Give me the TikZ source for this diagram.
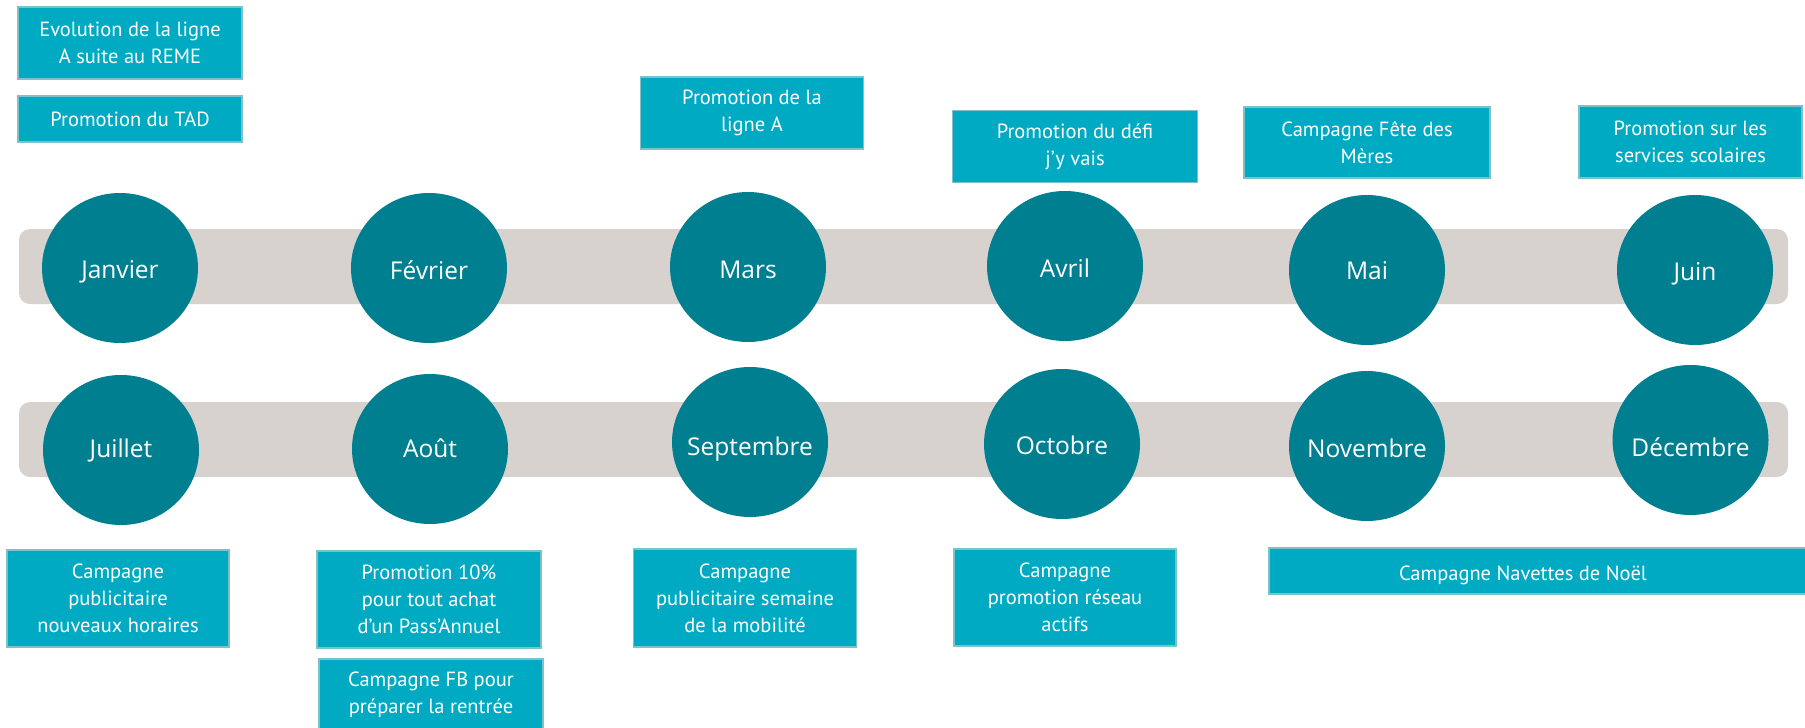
\documentclass[tikz,border=0pt]{standalone}
\usepackage{fontspec}
\setmainfont{PT Sans}
\newfontfamily\monthfont{Open Sans}
\definecolor{boxcyan}{HTML}{00AAC3}
\definecolor{boxborder}{HTML}{7CC2C7}
\definecolor{circ}{HTML}{007F90}
\definecolor{band}{HTML}{D7D2CE}
\usetikzlibrary{shapes.geometric}
\tikzset{
  evbox/.style={rectangle, fill=boxcyan, draw=boxborder, line width=1.8pt, text=white, align=center, inner sep=0pt, font=\fontsize{20.5}{27}\selectfont},
  evtext/.style={text=white, inner sep=0pt, font=\fontsize{20.5}{27}\selectfont},
  month/.style={ellipse, fill=circ, inner sep=0pt, minimum width=156pt, minimum height=150pt},
  mtext/.style={anchor=base, text=white, inner sep=0pt, font=\monthfont\fontsize{24.5}{28}\selectfont},
  bandbar/.style={fill=band, rounded corners=11pt},
}
\begin{document}
\begin{tikzpicture}[x=1pt,y=-1pt]
\useasboundingbox (0,0) rectangle (1805,728);
\clip (0,0) rectangle (1805,728);
% bands
\path[bandbar] (19,229) rectangle (1788,304);
\path[bandbar] (19,402) rectangle (1788,477);
% months
\node[month] (jan) at (120,268) {};
\node[month] (feb) at (429,268) {};
\node[month] (mar) at (748,267) {};
\node[month] (apr) at (1065,266) {};
\node[month] (may) at (1367,270) {};
\node[month] (jun) at (1695,270) {};
\node[month] (jul) at (121,450) {};
\node[month] (aug) at (430,449) {};
\node[month] (sep) at (750,442) {};
\node[month] (oct) at (1062,444) {};
\node[month] (nov) at (1367,446) {};
\node[month] (dec) at (1690.5,440) {};
\node[mtext] (tjan) at (120,278) {Janvier};
\node[mtext] (tfeb) at (429,279.5) {Février};
\node[mtext] (tmar) at (748,278) {Mars};
\node[mtext] (tapr) at (1065,277) {Avril};
\node[mtext] (tmay) at (1367,279.5) {Mai};
\node[mtext] (tjun) at (1695,280) {Juin};
\node[mtext] (tjul) at (121,457) {Juillet};
\node[mtext] (taug) at (430,457) {Août};
\node[mtext] (tsep) at (750,455) {Septembre};
\node[mtext] (toct) at (1062,454.5) {Octobre};
\node[mtext] (tnov) at (1367,457) {Novembre};
\node[mtext] (tdec) at (1690.5,456.7) {Décembre};
% top boxes
\node[evbox, minimum width=224pt, minimum height=72pt] (b1) at (130,43) {Evolution de la ligne\\A suite au REME};
\node[evbox, minimum width=224pt, minimum height=46pt] (b2) at (130,119) {Promotion du TAD};
\node[evbox, minimum width=223pt, minimum height=72pt] (b3) at (752,113) {Promotion de la\\ligne A};
\node[evbox, minimum width=245pt, minimum height=72pt] (b4) at (1075,146.5) {Promotion du défi\\j’y vais};
\node[evbox, minimum width=246pt, minimum height=71pt] (b5) at (1367,142.5) {Campagne Fête des\\Mères};
\node[evbox, minimum width=223pt, minimum height=72pt] (b6) at (1690.5,141.7) {Promotion sur les\\services scolaires};
% bottom boxes
\node[evbox, minimum width=222pt, minimum height=97pt] (b7) at (118,598.5) {Campagne\\publicitaire\\nouveaux horaires};
\node[evbox, minimum width=224pt, minimum height=97pt] (b8) at (429,599.5) {Promotion 10\%\\pour tout achat\\d’un Pass’Annuel};
\node[evbox, minimum width=224pt, minimum height=72pt] (b9) at (431,695) {Campagne FB pour\\préparer la rentrée};
\node[evbox, minimum width=223pt, minimum height=98pt] (b10) at (745,598) {Campagne\\publicitaire semaine\\de la mobilité};
\node[evbox, minimum width=222pt, minimum height=97pt] (b11) at (1065,597.5) {Campagne\\promotion réseau\\actifs};
\node[evbox, minimum width=560pt, minimum height=46pt] (b12) at (1549,571) {};
\node[evtext] (b12t) at (1523,575) {Campagne Navettes de Noël};
\end{tikzpicture}
\end{document}
